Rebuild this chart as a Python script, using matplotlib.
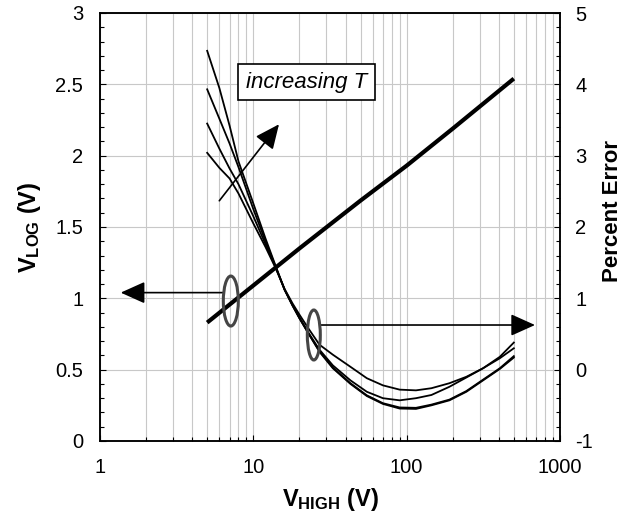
import numpy as np
import matplotlib
matplotlib.use("Agg")
import matplotlib.pyplot as plt
from matplotlib.patches import Ellipse
from matplotlib.ticker import LogLocator, MultipleLocator, NullFormatter

plt.rcParams['font.family'] = ['Liberation Sans', 'DejaVu Sans']
plt.rcParams['mathtext.fontset'] = 'custom'
plt.rcParams['mathtext.rm'] = 'Liberation Sans'
plt.rcParams['mathtext.bf'] = 'Liberation Sans:bold'

# V_LOG output vs V_HIGH (left axis)
vhigh_log = [5, 10, 20, 50, 100, 200, 500]
vlog = [0.83, 1.09, 1.35, 1.685, 1.93, 2.19, 2.54]

# percent error vs V_HIGH, one curve per temperature (right axis)
vhigh_err = [5, 6, 7, 8, 10, 12, 14, 16, 18, 20, 23, 27, 33, 43, 55, 70, 90,
             115, 145, 190, 245, 315, 405, 500]
err_t1 = [4.47, 3.95, 3.42, 2.92, 2.33, 1.84, 1.45, 1.12, 0.90, 0.72, 0.50, 0.25,
          0.02, -0.20, -0.37, -0.48, -0.545, -0.55, -0.50, -0.43, -0.31, -0.15, 0.01, 0.17]
err_t2 = [3.93, 3.52, 3.17, 2.84, 2.25, 1.80, 1.44, 1.12, 0.90, 0.72, 0.50, 0.26,
          0.03, -0.19, -0.36, -0.47, -0.53, -0.535, -0.49, -0.42, -0.30, -0.14, 0.02, 0.19]
err_t3 = [3.45, 3.10, 2.82, 2.60, 2.15, 1.76, 1.43, 1.12, 0.91, 0.73, 0.51, 0.28,
          0.06, -0.15, -0.31, -0.40, -0.43, -0.40, -0.355, -0.24, -0.11, 0.02, 0.16, 0.30]
err_t4 = [3.04, 2.83, 2.68, 2.47, 2.05, 1.72, 1.42, 1.13, 0.93, 0.77, 0.57, 0.35,
          0.21, 0.04, -0.12, -0.22, -0.28, -0.29, -0.26, -0.19, -0.10, 0.02, 0.18, 0.38]

left_ticks = [0, 0.5, 1, 1.5, 2, 2.5, 3]
left_labels = ['0', '0.5', '1', '1.5', '2', '2.5', '3']
right_ticks = [-1, 0, 1, 2, 3, 4, 5]
x_ticks = [1, 10, 100, 1000]

fig = plt.figure(figsize=(6.41, 5.17), dpi=100)
ax = fig.add_axes([100 / 641, 76 / 517, 460 / 641, 428 / 517])
ax2 = ax.twinx()

# thick V_LOG line
ax.plot(vhigh_log, vlog, color='black', lw=3.0, solid_capstyle='butt', zorder=3)

for err in [err_t1, err_t2, err_t3, err_t4]:
    ax2.plot(vhigh_err, err, color='black', lw=1.3)

ax.set_xscale('log')
ax.set_xlim(1, 1000)
ax.set_ylim(0, 3)
ax2.set_ylim(-1, 5)

ax.set_xticks(x_ticks, labels=[str(t) for t in x_ticks])
ax.xaxis.set_minor_locator(LogLocator(base=10, subs=range(2, 10)))
ax.xaxis.set_minor_formatter(NullFormatter())
ax.set_yticks(left_ticks, labels=left_labels)
ax.yaxis.set_minor_locator(MultipleLocator(0.1))
ax2.set_yticks(right_ticks, labels=[str(t) for t in right_ticks])
ax2.yaxis.set_minor_locator(MultipleLocator(0.2))

ax.grid(which='both', axis='x', color='#c8c8c8', lw=0.8)
ax.grid(which='major', axis='y', color='#c8c8c8', lw=0.8)
ax.set_axisbelow(True)

ax.tick_params(axis='both', which='both', direction='in', top=False, right=False,
               labelsize=14.5, width=0.8)
ax.tick_params(axis='both', which='major', length=4.5)
ax.tick_params(axis='both', which='minor', length=3)
ax.tick_params(axis='x', pad=12)
ax.tick_params(axis='y', pad=12)
ax2.tick_params(axis='y', which='both', direction='in', labelsize=14.5, width=0.8, pad=11)
ax2.tick_params(axis='y', which='major', length=4.5)
ax2.tick_params(axis='y', which='minor', length=3)

for a in (ax, ax2):
    for s in a.spines.values():
        s.set_linewidth(1.1)

ax.set_xlabel(r'$\mathbf{V_{HIGH}}$ (V)', fontsize=17, fontweight='bold')
ax.xaxis.set_label_coords(0.5, -0.105)
ax.set_ylabel(r'$\mathbf{V_{LOG}}$ (V)', fontsize=17, fontweight='bold')
ax.yaxis.set_label_coords(-0.124, 0.5)
ax2.set_ylabel('Percent Error', fontsize=16, fontweight='bold')
ax2.yaxis.set_label_coords(1.092, 0.537)

# arrows and annotation
arrow_kw = dict(arrowstyle='-|>,head_length=1.0,head_width=0.45', color='black',
                lw=1.2, mutation_scale=15, shrinkA=0, shrinkB=0)
ax.annotate('', xy=(1.365, 1.04), xytext=(6.37, 1.04), arrowprops=arrow_kw)
ax2.annotate('', xy=(687, 0.626), xytext=(27.2, 0.626), arrowprops=arrow_kw)
ax.annotate('', xy=(14.7, 2.22), xytext=(6.0, 1.684), arrowprops=arrow_kw)

ax.text(8.96, 2.516, 'increasing T', fontsize=16, style='italic', ha='left', va='center',
        bbox=dict(boxstyle='square,pad=0.35', fc='white', ec='black', lw=1.2))


def ring(axis, x, y, w_px, h_px):
    cx, cy = ax.transAxes.inverted().transform(axis.transData.transform((x, y)))
    e = Ellipse((cx, cy), w_px / 460, h_px / 428, transform=ax.transAxes,
                fill=False, ec='#454545', lw=2.2, zorder=5)
    ax2.add_patch(e)


ring(ax, 7.13, 0.981, 15, 50)
ring(ax2, 24.8, 0.486, 13, 50)

fig.savefig('out.png', dpi=100)
